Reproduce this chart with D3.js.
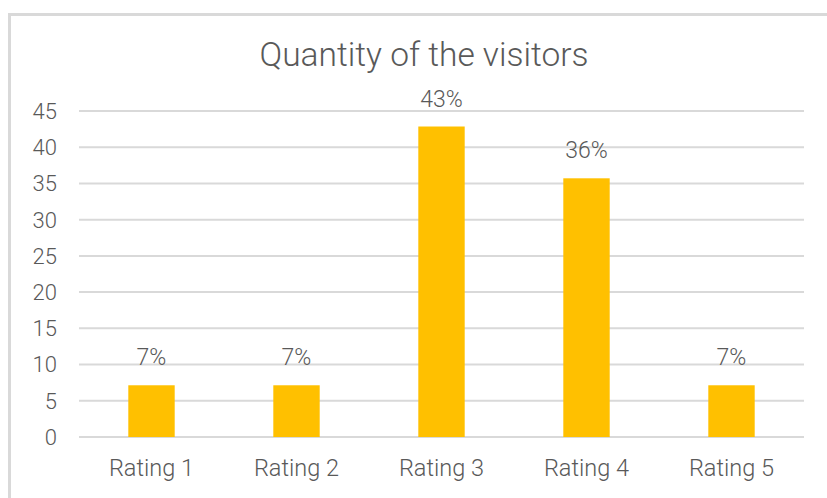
<!DOCTYPE html>
<html>
<head>
    <title>Quantity of the visitors</title>
    <script src="https://d3js.org/d3.v7.min.js"></script>
    <style>
        body { margin: 0; background: #fff; }
        text { font-family: Roboto, "Noto Sans", sans-serif; fill: #595959; font-weight: 300; }
        .grid line { stroke: #d9d9d9; stroke-width: 2; }
    </style>
</head>
<body>
    <div id="chart"></div>
    <script>
        // Data
        const categories = ["Rating 1", "Rating 2", "Rating 3", "Rating 4", "Rating 5"];
        const values = [7.14, 7.14, 42.86, 35.71, 7.14];
        const yTicks = [0, 5, 10, 15, 20, 25, 30, 35, 40, 45];
        const title = "Quantity of the visitors";

        const width = 827, height = 498;
        const plot = {left: 79, right: 804, top: 111, bottom: 437};

        const svg = d3.select("#chart")
            .append("svg")
            .attr("width", width)
            .attr("height", height);

        // Chart area frame (only top and left edges visible in the crop)
        svg.append("rect")
            .attr("x", 9.5)
            .attr("y", 14.5)
            .attr("width", 840)
            .attr("height", 520)
            .attr("fill", "none")
            .attr("stroke", "#d9d9d9")
            .attr("stroke-width", 3);

        const x = d3.scaleBand()
            .domain(categories)
            .range([plot.left, plot.right])
            .paddingInner(0.68)
            .paddingOuter(0.34);

        const y = d3.scaleLinear()
            .domain([0, 45])
            .range([plot.bottom, plot.top]);

        // Gridlines
        svg.append("g")
            .attr("class", "grid")
            .selectAll("line")
            .data(yTicks)
            .join("line")
            .attr("x1", plot.left)
            .attr("x2", plot.right)
            .attr("y1", d => y(d))
            .attr("y2", d => y(d));

        // Y tick labels
        svg.append("g")
            .selectAll("text")
            .data(yTicks)
            .join("text")
            .attr("x", 57)
            .attr("y", d => y(d))
            .attr("dy", "0.36em")
            .attr("text-anchor", "end")
            .style("font-size", "22px")
            .text(d => d);

        // Bars
        svg.append("g")
            .selectAll("rect")
            .data(values)
            .join("rect")
            .attr("x", (d, i) => x(categories[i]))
            .attr("y", d => y(d))
            .attr("width", x.bandwidth())
            .attr("height", d => y(0) - y(d))
            .attr("fill", "#ffc000");

        // Value labels
        svg.append("g")
            .selectAll("text")
            .data(values)
            .join("text")
            .attr("x", (d, i) => x(categories[i]) + x.bandwidth() / 2)
            .attr("y", d => y(d) - 20)
            .attr("text-anchor", "middle")
            .style("font-size", "23px")
            .text(d => Math.round(d) + "%");

        // Category labels
        svg.append("g")
            .selectAll("text")
            .data(categories)
            .join("text")
            .attr("x", d => x(d) + x.bandwidth() / 2)
            .attr("y", 476)
            .attr("text-anchor", "middle")
            .style("font-size", "23.5px")
            .text(d => d);

        // Title
        svg.append("text")
            .attr("x", 424)
            .attr("y", 66)
            .attr("text-anchor", "middle")
            .style("font-size", "33.5px")
            .text(title);
    </script>
</body>
</html>
